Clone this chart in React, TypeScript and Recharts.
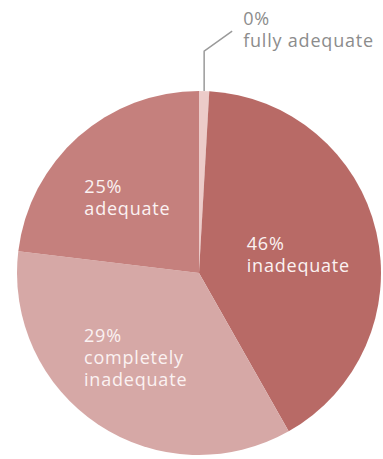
import { PieChart, Pie, Cell } from 'recharts'

// slice sizes as drawn (the printed percentages are kept separately)
const categories = ['fully adequate', 'inadequate', 'completely inadequate', 'adequate']
const sliceValues = [0.9, 40.9, 35.1, 23.1]
const printedPercents = [0, 46, 29, 25]
const labelLines = [['fully adequate'], ['inadequate'], ['completely', 'inadequate'], ['adequate']]

const colors = ['#eccbc9', '#b86a66', '#d6a8a6', '#c5807d']

// mid angle by printed percentages (clockwise from 12 o'clock)
const printedMid = printedPercents.map((p, i) => {
  const before = printedPercents.slice(0, i).reduce((a, b) => a + b, 0)
  return ((before + p / 2) / 100) * 360
})

const data = categories.map((name, i) => ({
  name,
  value: sliceValues[i],
  pct: printedPercents[i],
  lines: labelLines[i],
  printedMid: printedMid[i],
}))

const RAD = Math.PI / 180
const FONT = '"Open Sans", sans-serif'
const FS = 18
const LS = 0.8
const LH = 22

const renderLabel = (props: any) => {
  const { cx, cy, midAngle, outerRadius, index, payload } = props
  const lines: string[] = [`${payload.pct}%`, ...payload.lines]

  if (index === 0) {
    // outside label with a bent leader line
    const ex = cx + outerRadius * Math.cos(-midAngle * RAD)
    const ey = cy + outerRadius * Math.sin(-midAngle * RAD)
    const tx = ex + 39
    return (
      <g>
        <path
          d={`M${ex},${ey} V${ey - 40} L${ex + 28},${ey - 60}`}
          stroke="#9a9a9a"
          strokeWidth={1.5}
          fill="none"
        />
        <text x={tx} y={ey - 66} fill="#8c8c8c" fontFamily={FONT} fontSize={FS} letterSpacing={LS}>
          {lines.map((l, i) => (
            <tspan key={i} x={tx} dy={i === 0 ? 0 : LH}>
              {l}
            </tspan>
          ))}
        </text>
      </g>
    )
  }

  // blend the drawn slice's mid angle with the printed-percent one
  const drawnMid = (((90 - midAngle) % 360) + 360) % 360
  const ang = (drawnMid + payload.printedMid) / 2
  const r = outerRadius * 0.57
  const a = ang * RAD
  const px = cx + r * Math.sin(a)
  const py = cy - r * Math.cos(a)
  const maxLen = Math.max(...lines.map(l => l.length))
  const w = maxLen * (FS * 0.56 + LS)
  const capH = FS * 0.72
  const h = capH + (lines.length - 1) * LH
  const x0 = px - w / 2
  const y0 = py - h / 2 + capH

  return (
    <text x={x0} y={y0} fill="#fbf2f2" fontFamily={FONT} fontSize={FS} letterSpacing={LS}>
      {lines.map((l, i) => (
        <tspan key={i} x={x0} dy={i === 0 ? 0 : LH}>
          {l}
        </tspan>
      ))}
    </text>
  )
}

export default function App() {
  return (
    <div style={{ position: 'absolute', left: 0, top: 0, width: 383, height: 459, background: '#fff' }}>
      <PieChart width={383} height={459} margin={{ top: 0, right: 0, bottom: 0, left: 0 }}>
        <Pie
          data={data}
          dataKey="value"
          nameKey="name"
          cx={199}
          cy={273}
          outerRadius={182}
          startAngle={90}
          endAngle={-270}
          stroke="none"
          label={renderLabel}
          labelLine={false}
          isAnimationActive={false}
        >
          {data.map((d, i) => (
            <Cell key={d.name} fill={colors[i]} />
          ))}
        </Pie>
      </PieChart>
    </div>
  )
}
